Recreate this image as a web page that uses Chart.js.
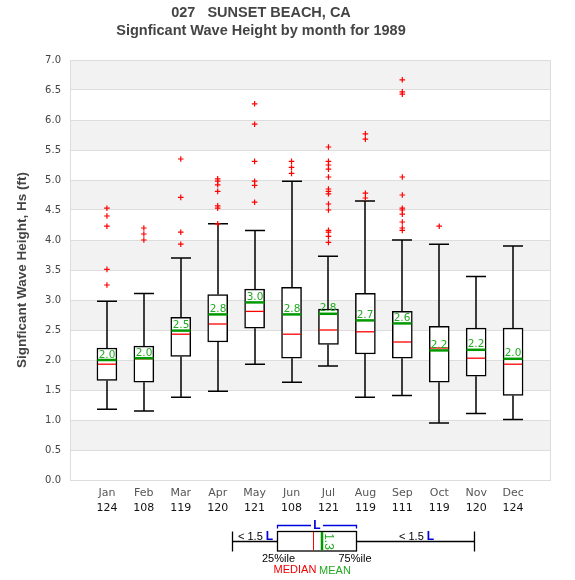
<!DOCTYPE html>
<html>
<head>
<meta charset="utf-8">
<script src="https://cdn.jsdelivr.net/npm/chart.js@4.4.0/dist/chart.umd.min.js"></script>
<style>
  html, body { margin: 0; padding: 0; background: #fff; }
  #wrap { width: 575px; height: 580px; }
</style>
</head>
<body>
<div id="wrap"><canvas id="waveChart" width="575" height="580"></canvas></div>
<script>
// monthly wave height stats, 1989 (ft)
const months = ['Jan', 'Feb', 'Mar', 'Apr', 'May', 'Jun', 'Jul', 'Aug', 'Sep', 'Oct', 'Nov', 'Dec'];
const counts = [124, 108, 119, 120, 121, 108, 121, 119, 111, 119, 120, 124];
const lowWhisker = [1.18, 1.15, 1.38, 1.48, 1.93, 1.63, 1.90, 1.38, 1.41, 0.95, 1.11, 1.01];
const q1 = [1.66, 1.63, 2.06, 2.30, 2.53, 2.03, 2.26, 2.10, 2.03, 1.63, 1.73, 1.41];
const medians = [1.93, 2.02, 2.43, 2.60, 2.81, 2.43, 2.50, 2.47, 2.30, 2.20, 2.03, 1.93];
const means = [2.00, 2.03, 2.49, 2.76, 2.96, 2.76, 2.77, 2.66, 2.61, 2.16, 2.17, 2.02];
const q3 = [2.20, 2.23, 2.71, 3.09, 3.18, 3.21, 2.85, 3.11, 2.81, 2.56, 2.53, 2.53];
const highWhisker = [2.98, 3.11, 3.70, 4.27, 4.16, 4.98, 3.73, 4.65, 4.00, 3.93, 3.39, 3.90];
const outliers = [
    [4.53, 4.40, 4.23, 3.51, 3.25],
    [4.20, 4.10, 4.00],
    [5.35, 4.71, 4.13, 3.93],
    [5.02, 4.98, 4.92, 4.81, 4.57, 4.53, 4.27],
    [6.27, 5.93, 5.31, 4.98, 4.91, 4.63],
    [5.31, 5.21, 5.11],
    [5.55, 5.31, 5.25, 5.18, 5.05, 4.85, 4.81, 4.77, 4.60, 4.50, 4.16, 4.13, 4.06, 3.96],
    [5.77, 5.68, 4.78, 4.70],
    [6.67, 6.47, 6.43, 5.05, 4.75, 4.53, 4.50, 4.43, 4.30, 4.20, 4.16],
    [4.23],
    [],
    []
];
const titleLines = ['027   SUNSET BEACH, CA', 'Signficant Wave Height by month for 1989'];

const BOX_HALF = 10;

const bandsPlugin = {
    id: 'bands',
    beforeDraw(chart) {
        const { ctx, chartArea: a, scales: { y } } = chart;
        ctx.save();
        ctx.fillStyle = '#fff';
        ctx.fillRect(0, 0, chart.width, chart.height);
        ctx.fillStyle = '#f2f2f2';
        for (let v = 0.5; v < 7; v += 1) {
            const top = y.getPixelForValue(v + 0.5);
            const bot = y.getPixelForValue(v);
            ctx.fillRect(a.left, top, a.right - a.left, bot - top);
        }
        // title (centred a bit left of the canvas middle, like the original)
        ctx.fillStyle = '#444';
        ctx.font = 'bold 14.5px "Liberation Sans"';
        ctx.textAlign = 'center';
        ctx.textBaseline = 'alphabetic';
        ctx.fillText(titleLines[0], 261, 16.5);
        ctx.fillText(titleLines[1], 261, 34.5);
        ctx.restore();
    }
};

const boxPlugin = {
    id: 'boxExtras',
    beforeDatasetsDraw(chart) {
        const { ctx, scales: { x, y } } = chart;
        ctx.save();
        ctx.strokeStyle = '#000';
        ctx.lineWidth = 1.5;
        months.forEach((m, i) => {
            const px = Math.round(x.getPixelForValue(i + 1));
            const hi = y.getPixelForValue(highWhisker[i]);
            const lo = y.getPixelForValue(lowWhisker[i]);
            ctx.beginPath();
            ctx.moveTo(px, y.getPixelForValue(q3[i]));
            ctx.lineTo(px, hi);
            ctx.moveTo(px, y.getPixelForValue(q1[i]));
            ctx.lineTo(px, lo);
            ctx.moveTo(px - BOX_HALF, hi);
            ctx.lineTo(px + BOX_HALF, hi);
            ctx.moveTo(px - BOX_HALF, lo);
            ctx.lineTo(px + BOX_HALF, lo);
            ctx.stroke();
        });
        ctx.restore();
    },
    afterDatasetsDraw(chart) {
        const { ctx, scales: { x, y } } = chart;
        ctx.save();
        months.forEach((m, i) => {
            const px = Math.round(x.getPixelForValue(i + 1));
            const med = y.getPixelForValue(medians[i]);
            const mn = y.getPixelForValue(means[i]);
            ctx.strokeStyle = '#ff0000';
            ctx.lineWidth = 1.3;
            ctx.beginPath();
            ctx.moveTo(px - BOX_HALF + 1, med);
            ctx.lineTo(px + BOX_HALF - 1, med);
            ctx.stroke();
            ctx.strokeStyle = '#009a00';
            ctx.lineWidth = 2.5;
            ctx.beginPath();
            ctx.moveTo(px - BOX_HALF + 0.5, mn);
            ctx.lineTo(px + BOX_HALF - 0.5, mn);
            ctx.stroke();
            ctx.fillStyle = '#22aa22';
            ctx.font = '10.5px "DejaVu Sans"';
            ctx.textAlign = 'center';
            ctx.textBaseline = 'alphabetic';
            ctx.fillText(means[i].toFixed(1), px, mn - 2.5);
        });
        ctx.restore();
    },
    afterDraw(chart) {
        const { ctx, chartArea: a } = chart;
        ctx.save();
        ctx.strokeStyle = '#dddddd';
        ctx.lineWidth = 1;
        ctx.beginPath();
        ctx.moveTo(Math.round(a.right) + 0.5, a.top);
        ctx.lineTo(Math.round(a.right) + 0.5, a.bottom);
        ctx.stroke();
        drawKey(ctx);
        ctx.restore();
    }
};

// the little explanation box under the chart
function drawKey(ctx) {
    ctx.save();
    ctx.strokeStyle = '#000';
    ctx.lineWidth = 1.3;
    ctx.beginPath();
    ctx.moveTo(232.5, 541.5); ctx.lineTo(277.5, 541.5);
    ctx.moveTo(356.5, 541.5); ctx.lineTo(474.5, 541.5);
    ctx.moveTo(232.5, 531.5); ctx.lineTo(232.5, 551.5);
    ctx.moveTo(474.5, 531.5); ctx.lineTo(474.5, 551.5);
    ctx.stroke();
    ctx.strokeRect(277.5, 531.5, 79, 19.5);

    ctx.strokeStyle = '#ff0000';
    ctx.lineWidth = 1;
    ctx.beginPath();
    ctx.moveTo(313.5, 532); ctx.lineTo(313.5, 550.5);
    ctx.stroke();
    ctx.strokeStyle = '#009a00';
    ctx.lineWidth = 2.5;
    ctx.beginPath();
    ctx.moveTo(322, 532); ctx.lineTo(322, 550.5);
    ctx.stroke();

    ctx.save();
    ctx.translate(328, 541.5);
    ctx.rotate(Math.PI / 2);
    ctx.fillStyle = '#22aa22';
    ctx.font = '12px "Liberation Sans"';
    ctx.textAlign = 'center';
    ctx.textBaseline = 'middle';
    ctx.fillText('1.3', 0, 0);
    ctx.restore();

    ctx.strokeStyle = '#0000dd';
    ctx.lineWidth = 1.3;
    ctx.beginPath();
    ctx.moveTo(277.5, 528.5); ctx.lineTo(277.5, 525.5); ctx.lineTo(311, 525.5);
    ctx.moveTo(323, 525.5); ctx.lineTo(356.5, 525.5); ctx.lineTo(356.5, 528.5);
    ctx.stroke();
    ctx.fillStyle = '#0000dd';
    ctx.font = 'bold 12px "Liberation Sans"';
    ctx.textAlign = 'center';
    ctx.textBaseline = 'alphabetic';
    ctx.fillText('L', 317, 529);

    [238, 399].forEach(x0 => {
        ctx.textAlign = 'left';
        ctx.font = '11px "Liberation Sans"';
        ctx.fillStyle = '#000';
        ctx.fillText('< 1.5 ', x0, 539.5);
        const w = ctx.measureText('< 1.5 ').width;
        ctx.font = 'bold 12px "Liberation Sans"';
        ctx.fillStyle = '#0000dd';
        ctx.fillText('L', x0 + w, 539.5);
    });

    ctx.textAlign = 'center';
    ctx.font = '11px "Liberation Sans"';
    ctx.fillStyle = '#000';
    ctx.fillText('25%ile', 278.5, 562);
    ctx.fillText('75%ile', 355, 562);
    ctx.fillStyle = '#ee0000';
    ctx.fillText('MEDIAN', 295, 572.5);
    ctx.fillStyle = '#22aa22';
    ctx.fillText('MEAN', 335, 573.5);
    ctx.restore();
}

const boxData = months.map((m, i) => ({ x: i + 1, y: [q1[i], q3[i]] }));
const outlierData = outliers.flatMap((vals, i) => vals.map(v => ({ x: i + 1, y: v })));

new Chart(document.getElementById('waveChart'), {
    type: 'bar',
    data: {
        datasets: [{
            label: 'box',
            data: boxData,
            backgroundColor: '#ffffff',
            borderColor: '#000000',
            borderWidth: 1.5,
            borderSkipped: false,
            barThickness: 20,
            grouped: false
        }, {
            type: 'scatter',
            label: 'outliers',
            data: outlierData,
            pointStyle: 'cross',
            radius: 2.8,
            borderColor: '#ff0000',
            borderWidth: 1.2
        }]
    },
    options: {
        responsive: false,
        animation: false,
        layout: { padding: { left: 0, right: 25, top: 60, bottom: 0 } },
        plugins: {
            legend: { display: false },
            tooltip: { enabled: false },
            title: { display: false }
        },
        scales: {
            x: {
                type: 'linear',
                offset: false,
                min: 0,
                max: 13,
                grid: { display: false, drawTicks: false },
                border: { display: true, color: '#dddddd' },
                ticks: {
                    stepSize: 1,
                    autoSkip: false,
                    maxRotation: 0,
                    padding: 7,
                    color: '#555',
                    font: { family: 'DejaVu Sans', size: 11 },
                    callback: v => months[v - 1] || ''
                },
                afterFit: s => { s.height = 20; }
            },
            x2: {
                type: 'linear',
                position: 'bottom',
                offset: false,
                min: 0,
                max: 13,
                grid: { display: false, drawTicks: false },
                border: { display: false },
                ticks: {
                    stepSize: 1,
                    autoSkip: false,
                    maxRotation: 0,
                    padding: 2,
                    color: '#111',
                    font: { family: 'DejaVu Sans', size: 11 },
                    callback: v => counts[v - 1] || ''
                },
                afterFit: s => { s.height = 80; }
            },
            y: {
                min: 0,
                max: 7,
                grid: { color: '#dddddd', drawTicks: false },
                border: { color: '#dddddd' },
                ticks: {
                    stepSize: 0.5,
                    padding: 9,
                    color: '#444',
                    font: { family: 'DejaVu Sans', size: 10 },
                    callback: v => v.toFixed(1)
                },
                title: {
                    display: true,
                    text: 'Signficant Wave Height, Hs (ft)',
                    color: '#444',
                    font: { family: 'Liberation Sans', size: 13.5, weight: 'bold' },
                    padding: { top: 14, bottom: 0 }
                },
                afterFit: s => { s.width = 70; }
            }
        }
    },
    plugins: [bandsPlugin, boxPlugin]
});
</script>
</body>
</html>
